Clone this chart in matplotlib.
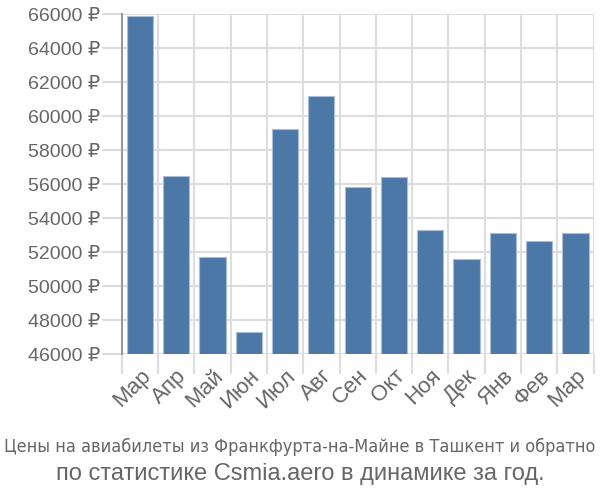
import matplotlib
matplotlib.use("Agg")
import matplotlib.pyplot as plt
import numpy as np

# Monthly average ticket prices (rubles)
months = ["Мар", "Апр", "Май", "Июн", "Июл", "Авг", "Сен", "Окт", "Ноя", "Дек", "Янв", "Фев", "Мар"]
prices = [65880, 56470, 51720, 47310, 59270, 61180, 55820, 56410, 53290, 51610, 53120, 52650, 53120]
y_ticks = [46000, 48000, 50000, 52000, 54000, 56000, 58000, 60000, 62000, 64000, 66000]

title_1 = "Цены на авиабилеты из Франкфурта-на-Майне в Ташкент и обратно"
title_2 = "по статистике Csmia.aero в динамике за год."

plt.rcParams["font.family"] = ["Liberation Sans", "DejaVu Sans"]

fig = plt.figure(figsize=(6, 5), dpi=100)
ax = fig.add_axes([121.7 / 600, 1 - 354.3 / 500, (593.6 - 121.7) / 600, (354.3 - 14.3) / 500])

x = np.arange(len(months))
ax.bar(x, prices, width=0.72, color="#4c78a8", edgecolor="#a9bdd6", linewidth=0.8, zorder=3)

ax.set_xlim(-0.5, len(months) - 0.5)
ax.set_ylim(46000, 66000)

ax.set_yticks(y_ticks)
ax.set_yticklabels([f"{v} ₽" for v in y_ticks])
ax.tick_params(axis="y", length=14.4, width=1.5, color="#dddddd", labelsize=14, labelcolor="#666666", pad=1)

ax.set_xticks(x)
ax.set_xticklabels(months, rotation=45, ha="right", rotation_mode="anchor")
ax.tick_params(axis="x", which="major", length=0, labelsize=16, labelcolor="#666666", pad=8)
ax.set_xticks(np.arange(-0.5, len(months)), minor=True)
ax.tick_params(axis="x", which="minor", length=14.4, width=1.5, color="#dddddd")

ax.grid(axis="y", color="#dddddd", linewidth=1.5, zorder=0)
ax.grid(axis="x", which="minor", color="#dddddd", linewidth=1.5, zorder=0)

for s in ["top", "right", "bottom"]:
    ax.spines[s].set_visible(False)
ax.spines["left"].set_color("#999999")
ax.spines["left"].set_linewidth(1.5)
ax.spines["left"].set_zorder(4)

fig.text(0.5, 1 - 447 / 500, title_1, ha="center", va="center", fontsize=13,
         color="#666666", family="DejaVu Sans", fontstretch="condensed")
fig.text(0.5, 1 - 474 / 500, title_2, ha="center", va="center", fontsize=17,
         color="#666666")

fig.savefig("out.png", dpi=100)
